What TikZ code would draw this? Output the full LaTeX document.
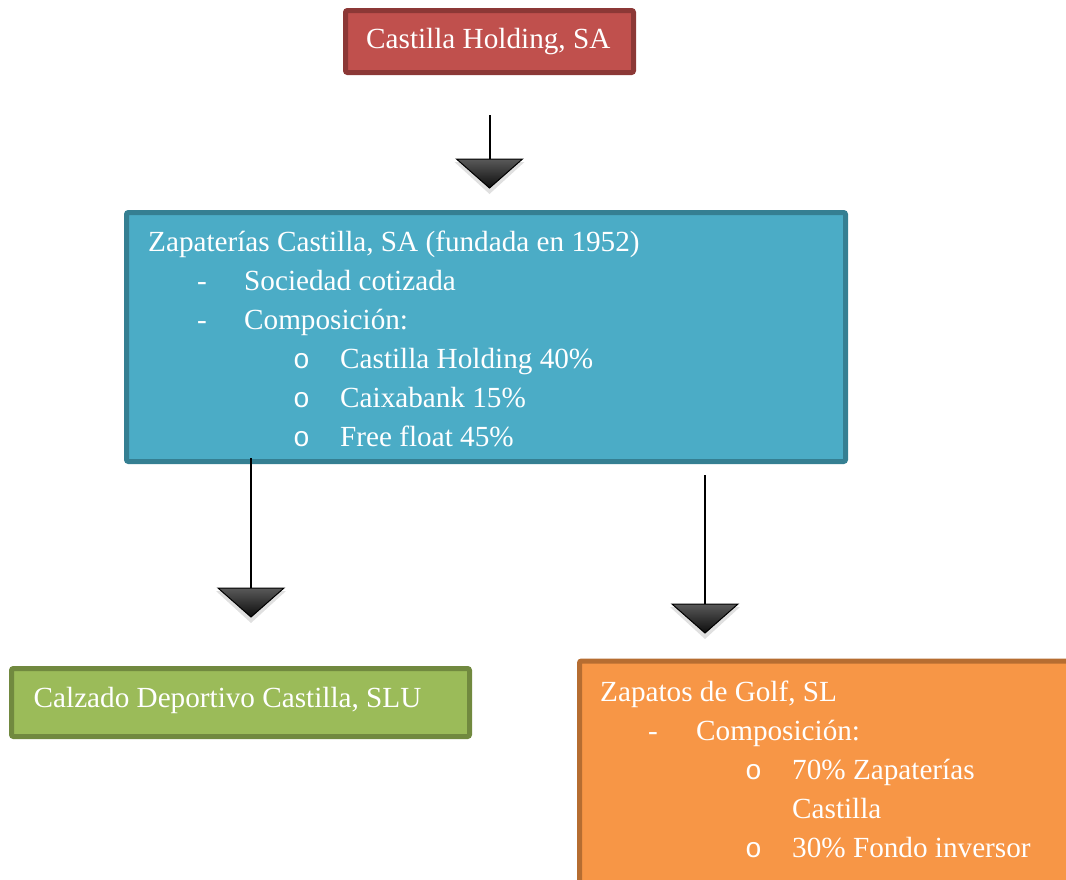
\documentclass[tikz,border=0pt]{standalone}
\usepackage{fontspec}
\setmainfont{Liberation Serif}
\newfontfamily\bolita{Liberation Mono}
\usetikzlibrary{calc,positioning}
\definecolor{rojo}{HTML}{C0504D}
\definecolor{rojoborde}{HTML}{8C3836}
\definecolor{azul}{HTML}{4BACC6}
\definecolor{azulborde}{HTML}{357F92}
\definecolor{verde}{HTML}{9BBB59}
\definecolor{verdeborde}{HTML}{71893F}
\definecolor{naranja}{HTML}{F79646}
\definecolor{naranjaborde}{HTML}{B66D31}
\tikzset{
  caja/.style={line width=5pt,rounded corners=2pt,inner sep=0pt,outer sep=0pt},
  texto/.style={text=white,anchor=base west,inner sep=0pt,font=\fontsize{29.2}{39}\selectfont},
  linea/.style={line width=2pt},
  punta/.style={draw=black,line width=1pt,top color=black!65,bottom color=black!95,line join=miter},
  sombra/.style={fill=black!12,draw=none},
}
\newcommand{\bol}{{\bolita\fontsize{28}{39}\selectfont o}}
\newcommand{\flecha}[1]{%
  \fill[sombra] (#1) ++(-35,3) -- ++(70,0) -- ++(-35,32) -- cycle;
  \filldraw[punta] (#1) ++(-33,0) -- ++(66,0) -- ++(-33,29) -- cycle;}

\begin{document}
\begin{tikzpicture}[x=1pt,y=-1pt]
  \clip (0,0) rectangle (1066,879);
  % cajas
  \node[caja,fill=rojo,draw=rojoborde,minimum width=288pt,minimum height=62pt] (holding) at (489.5,41.5) {};
  \node[caja,fill=azul,draw=azulborde,minimum width=719pt,minimum height=249pt] (zapaterias) at (486,337) {};
  \node[caja,fill=verde,draw=verdeborde,minimum width=458pt,minimum height=68pt] (calzado) at (240.5,702.5) {};
  \node[caja,fill=naranja,draw=naranjaborde,minimum width=520pt,minimum height=250pt] (golf) at (839.5,786) {};

  % textos
  \node[texto] (tholding) at (366,48.5) {Castilla Holding, SA};

  \node[texto] (z0) at (148,251.5) {Zapaterías Castilla, SA (fundada en 1952)};
  \node[texto] (z1g) at (197,290.5) {-};
  \node[texto] (z1) at (244,290.5) {Sociedad cotizada};
  \node[texto] (z2g) at (197,329.5) {-};
  \node[texto] (z2) at (244,329.5) {Composición:};
  \node[texto] (z3g) at (293,368) {\bol};
  \node[texto] (z3) at (340,368) {Castilla Holding 40\%};
  \node[texto] (z4g) at (293,407) {\bol};
  \node[texto] (z4) at (340,407) {Caixabank 15\%};
  \node[texto] (z5g) at (293,446) {\bol};
  \node[texto] (z5) at (340,446) {Free float 45\%};

  \node[texto] (tcalzado) at (33.5,707.5) {Calzado Deportivo Castilla, SLU};

  \node[texto] (g0) at (600,701.5) {Zapatos de Golf, SL};
  \node[texto] (g1g) at (648,740) {-};
  \node[texto] (g1) at (696,740) {Composición:};
  \node[texto] (g2g) at (745,779) {\bol};
  \node[texto] (g2) at (792,779) {70\% Zapaterías};
  \node[texto] (g3) at (792,818) {Castilla};
  \node[texto] (g4g) at (745,857) {\bol};
  \node[texto] (g4) at (792,857) {30\% Fondo inversor};

  % flechas
  \coordinate (a1) at ($(holding.south)+(0,42.5)$);
  \coordinate (b1) at (a1 |- 0,159);
  \coordinate (a2) at (251,458);
  \coordinate (b2) at (a2 |- 0,588);
  \coordinate (a3) at (705,475);
  \coordinate (b3) at (a3 |- 0,604);
  \draw[linea] (a1) -- (b1);
  \draw[linea] (a2) -- (b2);
  \draw[linea] (a3) -- (b3);
  \flecha{b1}
  \flecha{b2}
  \flecha{b3}
\end{tikzpicture}
\end{document}
